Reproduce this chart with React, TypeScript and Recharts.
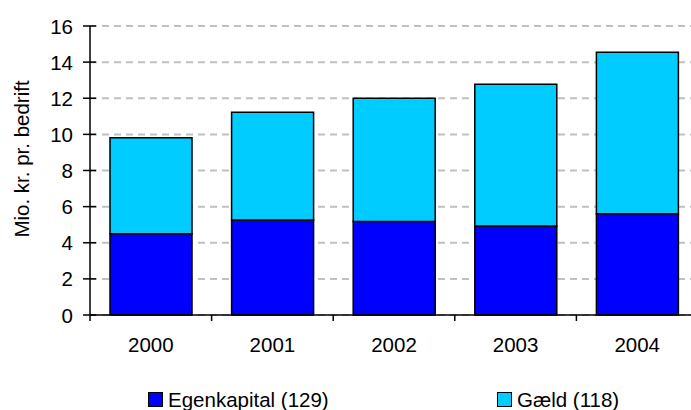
import React from 'react';
import { BarChart, Bar, XAxis, YAxis, CartesianGrid } from 'recharts';

const years = ['2000', '2001', '2002', '2003', '2004'];
const egenkapital = [4.5, 5.26, 5.17, 4.93, 5.61];
const gaeld = [5.32, 5.96, 6.83, 7.84, 8.94];
const yTicks = [0, 2, 4, 6, 8, 10, 12, 14, 16];

const data = years.map((year, i) => ({
  year,
  egenkapital: egenkapital[i],
  gaeld: gaeld[i],
}));

const FONT = '"Liberation Sans", Arial, sans-serif';
const FS = 20.5;
const BAND = 121.6;

const YTick = (props: any) => {
  const { x, y, payload } = props;
  return (
    <g>
      <line x1={x - 7} x2={x + 6} y1={y} y2={y} stroke="#000" strokeWidth={1.5} />
      <text x={x - 17} y={y} textAnchor="end" dominantBaseline="central" fontSize={FS} fill="#000" fontFamily={FONT}>
        {payload.value}
      </text>
    </g>
  );
};

const XTick = (props: any) => {
  const { x, y, payload, index } = props;
  return (
    <g>
      {index === 0 && (
        <line x1={x - BAND / 2} x2={x - BAND / 2} y1={y} y2={y + 6} stroke="#000" strokeWidth={1.5} />
      )}
      <line x1={x + BAND / 2} x2={x + BAND / 2} y1={y} y2={y + 6} stroke="#000" strokeWidth={1.5} />
      <text x={x} y={y + 37} textAnchor="middle" fontSize={FS} fill="#000" fontFamily={FONT}>
        {payload.value}
      </text>
    </g>
  );
};

const LegendItem = ({ color, label, left }: { color: string; label: string; left: number }) => (
  <div style={{ position: 'absolute', left, top: 391, display: 'flex', alignItems: 'center', fontFamily: FONT, fontSize: FS, lineHeight: '17px' }}>
    <span style={{ width: 13, height: 13, background: color, border: '1.5px solid #000', marginRight: 5, display: 'inline-block' }} />
    <span>{label}</span>
  </div>
);

export default function App() {
  return (
    <div style={{ position: 'absolute', left: 0, top: 0, width: 691, height: 410, overflow: 'hidden', background: '#fff' }}>
      <BarChart width={700} height={410} data={data} margin={{ top: 26, right: 2, left: 0, bottom: 65 }} barSize={82}>
        <CartesianGrid vertical={false} stroke="#c0c0c0" strokeWidth={2} strokeDasharray="7 5" />
        <XAxis
          dataKey="year"
          height={30}
          tickSize={0}
          tickMargin={0}
          tickLine={false}
          axisLine={{ stroke: '#000', strokeWidth: 1.5 }}
          tick={<XTick />}
        />
        <YAxis
          width={90}
          domain={[0, 16]}
          ticks={yTicks}
          interval={0}
          tickSize={0}
          tickMargin={0}
          tickLine={false}
          axisLine={{ stroke: '#000', strokeWidth: 1.5 }}
          tick={<YTick />}
          label={{
            content: () => (
              <text
                x={29}
                y={159}
                transform="rotate(-90 29 159)"
                textAnchor="middle"
                fontSize={FS}
                fill="#000"
                fontFamily={FONT}
              >
                Mio. kr. pr. bedrift
              </text>
            ),
          }}
        />
        <Bar dataKey="egenkapital" stackId="a" fill="#0000FF" stroke="#000" strokeWidth={1.5} isAnimationActive={false} />
        <Bar dataKey="gaeld" stackId="a" fill="#00CCFF" stroke="#000" strokeWidth={1.5} isAnimationActive={false} />
      </BarChart>
      <LegendItem color="#0000FF" label="Egenkapital (129)" left={148} />
      <LegendItem color="#00CCFF" label="Gæld (118)" left={497} />
    </div>
  );
}
